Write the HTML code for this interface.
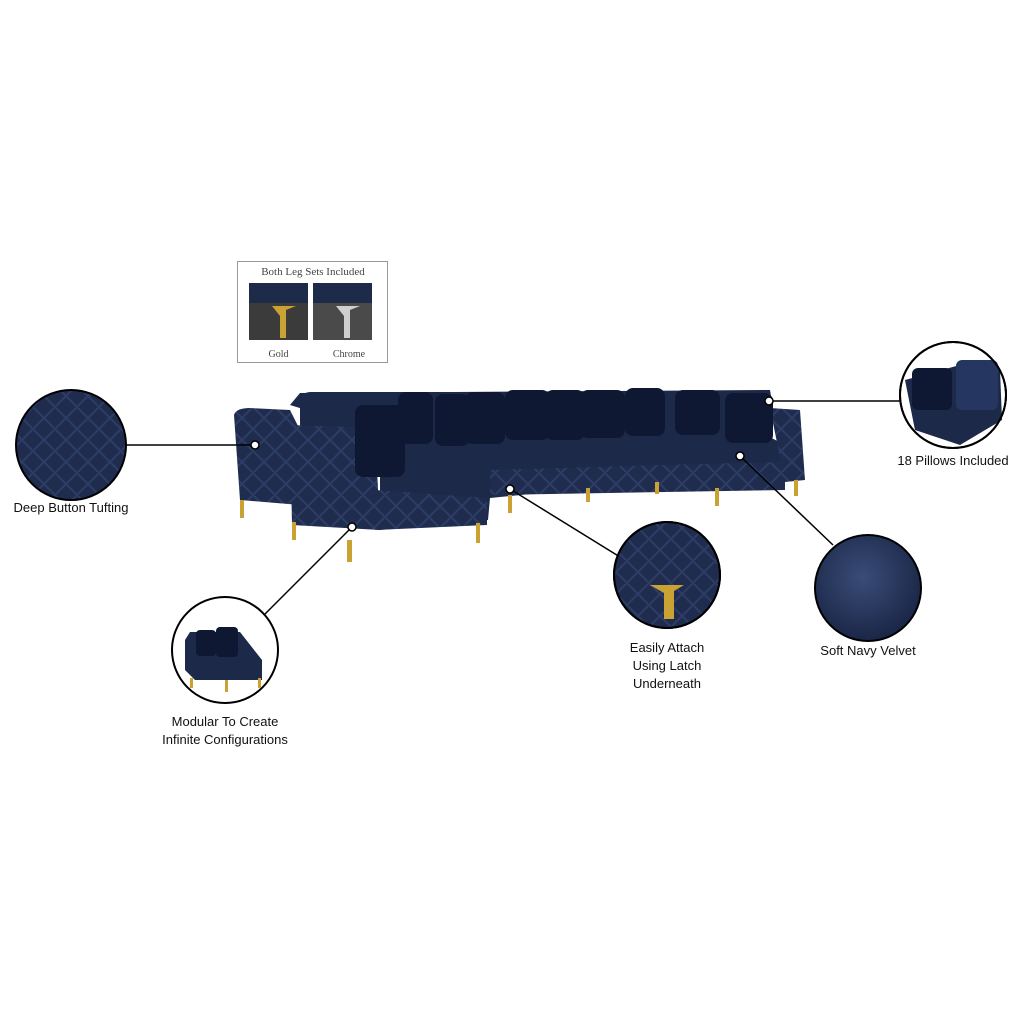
<!DOCTYPE html>
<html><head><meta charset="utf-8"><style>
html,body{margin:0;padding:0;background:#fff;}
.wrap{position:relative;width:1024px;height:1024px;overflow:hidden;font-family:"Liberation Sans",sans-serif;}
.lbl{position:absolute;font-size:13px;color:#111;text-align:center;line-height:18px;}
</style></head><body><div class="wrap">
<svg width="1024" height="1024" style="position:absolute;left:0;top:0">
<defs>
<radialGradient id="vel" cx="45%" cy="40%" r="60%"><stop offset="0" stop-color="#3a4d78"/><stop offset="1" stop-color="#1a2646"/></radialGradient>
<pattern id="tuft" width="22" height="22" patternUnits="userSpaceOnUse"><rect width="22" height="22" fill="#1f2c4e"/><circle cx="11" cy="11" r="2" fill="#0b1228"/><path d="M0 0L11 11L22 0M0 22L11 11L22 22" stroke="#2d3d66" stroke-width="2" fill="none"/></pattern>
</defs>
<!-- legs box -->
<rect x="237.5" y="261.5" width="150" height="101" fill="#fff" stroke="#999"/>
<rect x="249" y="283" width="59" height="57" fill="#3b3b3b"/>
<rect x="249" y="283" width="59" height="20" fill="#1d2a4a"/>
<path d="M272 306h24l-10 4v28h-6v-22z" fill="#c9a233"/>
<rect x="313" y="283" width="59" height="57" fill="#4a4a4a"/>
<rect x="313" y="283" width="59" height="20" fill="#1d2a4a"/>
<path d="M336 306h24l-10 4v28h-6v-22z" fill="#cfcfcf"/>
<!-- sofa -->
<g fill="#1c2948">
<path d="M290 405 L300 393 L770 390 L775 420 L420 445 Z"/>
<rect x="300" y="392" width="470" height="45" rx="10"/>
<path d="M234 415 Q236 408 250 408 L290 410 L300 430 L300 505 L240 500 Z" fill="url(#tuft)"/>
<path d="M290 425 L375 428 L380 530 L292 525 Z" fill="url(#tuft)"/>
<path d="M380 440 L760 432 L785 445 L785 480 L660 488 L590 488 L490 498 L488 520 L380 530 Z"/>
<path d="M770 408 L800 410 L805 480 L785 482 Z" fill="url(#tuft)"/>
<path d="M375 490 L487 498 L487 525 L375 530 Z" fill="url(#tuft)"/>
<path d="M490 470 L660 465 L785 462 L785 490 L490 495 Z" fill="url(#tuft)"/>
</g>
<g fill="#0f1833">
<rect x="355" y="405" width="50" height="72" rx="8"/>
<rect x="398" y="392" width="35" height="52" rx="8"/>
<rect x="435" y="394" width="35" height="52" rx="8"/>
<rect x="465" y="392" width="40" height="52" rx="8"/>
<rect x="505" y="390" width="45" height="50" rx="8"/>
<rect x="545" y="390" width="40" height="50" rx="8"/>
<rect x="580" y="390" width="45" height="48" rx="8"/>
<rect x="625" y="388" width="40" height="48" rx="8"/>
<rect x="675" y="390" width="45" height="45" rx="8"/>
<rect x="725" y="393" width="48" height="50" rx="8"/>
</g>
<g fill="#c9a233">
<rect x="240" y="500" width="4" height="18"/><rect x="292" y="522" width="4" height="18"/>
<rect x="347" y="540" width="5" height="22"/><rect x="476" y="523" width="4" height="20"/>
<rect x="508" y="495" width="4" height="18"/><rect x="586" y="488" width="4" height="14"/>
<rect x="655" y="482" width="4" height="12"/><rect x="715" y="488" width="4" height="18"/>
<rect x="794" y="480" width="4" height="16"/>
</g>
<!-- lines -->
<g stroke="#000" stroke-width="1.5" fill="none">
<line x1="126" y1="445" x2="255" y2="445"/>
<line x1="264" y1="615" x2="352" y2="527"/>
<line x1="510" y1="489" x2="620" y2="557"/>
<line x1="740" y1="456" x2="833" y2="545"/>
<line x1="769" y1="401" x2="900" y2="401"/>
</g>
<g fill="#fff" stroke="#000" stroke-width="1.5">
<circle cx="255" cy="445" r="4"/><circle cx="352" cy="527" r="4"/><circle cx="510" cy="489" r="4"/>
<circle cx="740" cy="456" r="4"/><circle cx="769" cy="401" r="4"/>
</g>
<!-- circles -->
<circle cx="71" cy="445" r="55" fill="url(#tuft)" stroke="#000" stroke-width="2"/>
<circle cx="953" cy="395" r="53" fill="#fff" stroke="#000" stroke-width="2"/>
<path d="M905 380 L960 365 L1000 370 L1002 420 L960 445 L915 430 Z" fill="#1c2948"/>
<rect x="912" y="368" width="40" height="42" rx="6" fill="#0f1833"/><rect x="956" y="360" width="42" height="50" rx="6" fill="#253660"/>
<circle cx="953" cy="395" r="53" fill="none" stroke="#000" stroke-width="2"/>
<circle cx="667" cy="575" r="53" fill="url(#tuft)" stroke="#000" stroke-width="2"/>
<path d="M650 585 h34 l-10 6 v28 h-10 v-26 z" fill="#c9a233"/>
<circle cx="667" cy="575" r="53" fill="none" stroke="#000" stroke-width="2"/>
<circle cx="868" cy="588" r="53" fill="url(#vel)" stroke="#000" stroke-width="2"/>
<circle cx="225" cy="650" r="53" fill="#fff" stroke="#000" stroke-width="2"/>
<path d="M185 640 L190 632 L240 632 L262 660 L262 680 L195 680 L185 670 Z" fill="#1c2948"/>
<rect x="196" y="630" width="20" height="26" rx="4" fill="#0f1833"/><rect x="216" y="627" width="22" height="30" rx="4" fill="#0f1833"/>
<g fill="#c9a233"><rect x="190" y="678" width="3" height="10"/><rect x="225" y="680" width="3" height="12"/><rect x="258" y="678" width="3" height="10"/></g>
</svg>
<div class="lbl" style="left:238px;top:263px;width:150px;font-family:'Liberation Serif',serif;font-size:11px;color:#444">Both Leg Sets Included</div>
<div class="lbl" style="left:249px;top:346px;width:59px;font-family:'Liberation Serif',serif;font-size:10px;color:#444">Gold</div>
<div class="lbl" style="left:313px;top:346px;width:72px;font-family:'Liberation Serif',serif;font-size:10px;color:#444">Chrome</div>
<div class="lbl" style="left:0px;top:499px;width:142px">Deep Button Tufting</div>
<div class="lbl" style="left:873px;top:452px;width:160px">18 Pillows Included</div>
<div class="lbl" style="left:587px;top:639px;width:160px">Easily Attach<br>Using Latch<br>Underneath</div>
<div class="lbl" style="left:788px;top:642px;width:160px">Soft Navy Velvet</div>
<div class="lbl" style="left:125px;top:713px;width:200px">Modular To Create<br>Infinite Configurations</div>
</div></body></html>
